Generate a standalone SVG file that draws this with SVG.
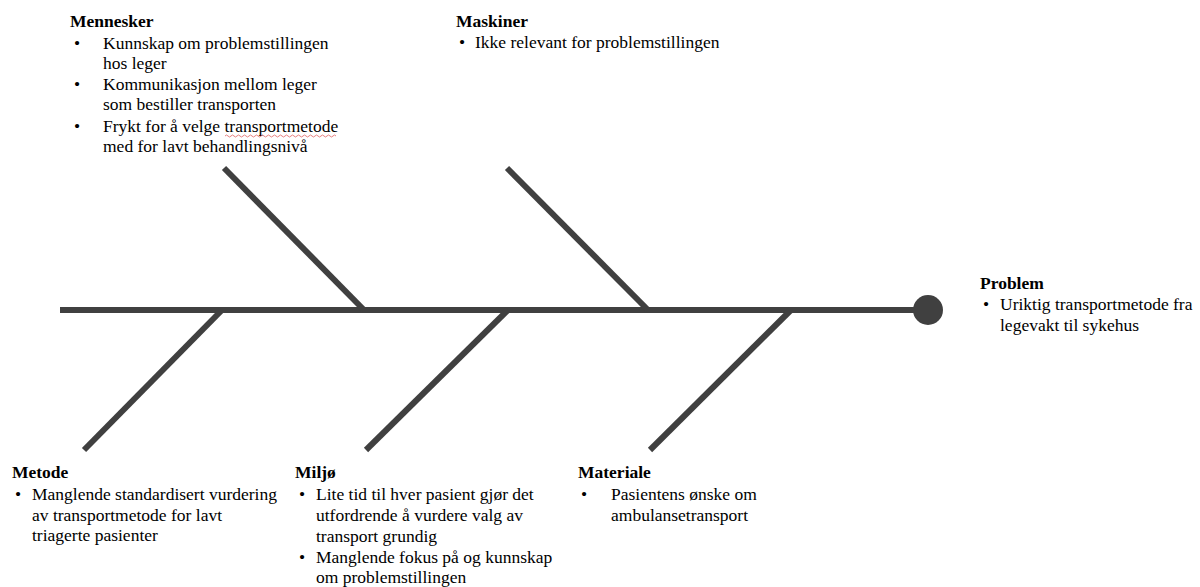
<svg xmlns="http://www.w3.org/2000/svg" width="1200" height="587" viewBox="0 0 1200 587">
<style>
text{font-family:"Liberation Serif","Times New Roman",serif;font-size:17.5px;fill:#000}
.t{font-weight:bold}
.bone{stroke:#404040;stroke-width:6;fill:none;stroke-linecap:butt}
.spine{stroke:#404040;stroke-width:6;fill:none}
</style>
<rect width="1200" height="587" fill="#fff"/>
<g id="connectors">
<line class="spine" x1="60" y1="310" x2="920" y2="310"/>
<line class="bone" x1="224" y1="168" x2="364" y2="310"/>
<line class="bone" x1="507" y1="168" x2="648" y2="310"/>
<line class="bone" x1="222" y1="310" x2="84" y2="450"/>
<line class="bone" x1="508" y1="310" x2="366" y2="450"/>
<line class="bone" x1="791" y1="310" x2="650" y2="450"/>
</g>
<g id="head"><circle cx="928" cy="310" r="15" fill="#404040"/></g>
<g id="mennesker">
<text class="t" x="70" y="27">Mennesker</text>
<text x="74" y="49">•</text><text x="103" y="49">Kunnskap om problemstillingen</text>
<text x="103" y="69">hos leger</text>
<text x="74" y="90">•</text><text x="103" y="90">Kommunikasjon mellom leger</text>
<text x="103" y="110">som bestiller transporten</text>
<text x="74" y="132">•</text><text x="103" y="132">Frykt for å velge transportmetode</text>
<text x="103" y="152">med for lavt behandlingsnivå</text>
<path d="M225 136 q1.5 -2 3 0 t3 0 t3 0 t3 0 t3 0 t3 0 t3 0 t3 0 t3 0 t3 0 t3 0 t3 0 t3 0 t3 0 t3 0 t3 0 t3 0 t3 0 t3 0 t3 0 t3 0 t3 0 t3 0 t3 0 t3 0 t3 0 t3 0 t3 0 t3 0 t3 0 t3 0 t3 0 t3 0 t3 0 t3 0 t3 0 t3 0" fill="none" stroke="#e06060" stroke-width="0.8"/>
</g>
<g id="maskiner">
<text class="t" x="456" y="27">Maskiner</text>
<text x="459" y="48">•</text><text x="475" y="48">Ikke relevant for problemstillingen</text>
</g>
<g id="problem">
<text class="t" x="980" y="289">Problem</text>
<text x="983" y="310">•</text><text x="1000" y="310">Uriktig transportmetode fra</text>
<text x="1000" y="331">legevakt til sykehus</text>
</g>
<g id="metode">
<text class="t" x="12" y="478">Metode</text>
<text x="15" y="500">•</text><text x="32" y="500">Manglende standardisert vurdering</text>
<text x="32" y="521">av transportmetode for lavt</text>
<text x="32" y="541">triagerte pasienter</text>
</g>
<g id="miljo">
<text class="t" x="295" y="478">Miljø</text>
<text x="299" y="500">•</text><text x="316" y="500">Lite tid til hver pasient gjør det</text>
<text x="316" y="521">utfordrende å vurdere valg av</text>
<text x="316" y="542">transport grundig</text>
<text x="299" y="563">•</text><text x="316" y="563">Manglende fokus på og kunnskap</text>
<text x="316" y="583">om problemstillingen</text>
</g>
<g id="materiale">
<text class="t" x="578" y="478">Materiale</text>
<text x="581" y="500">•</text><text x="611" y="500">Pasientens ønske om</text>
<text x="611" y="521">ambulansetransport</text>
</g>
</svg>
